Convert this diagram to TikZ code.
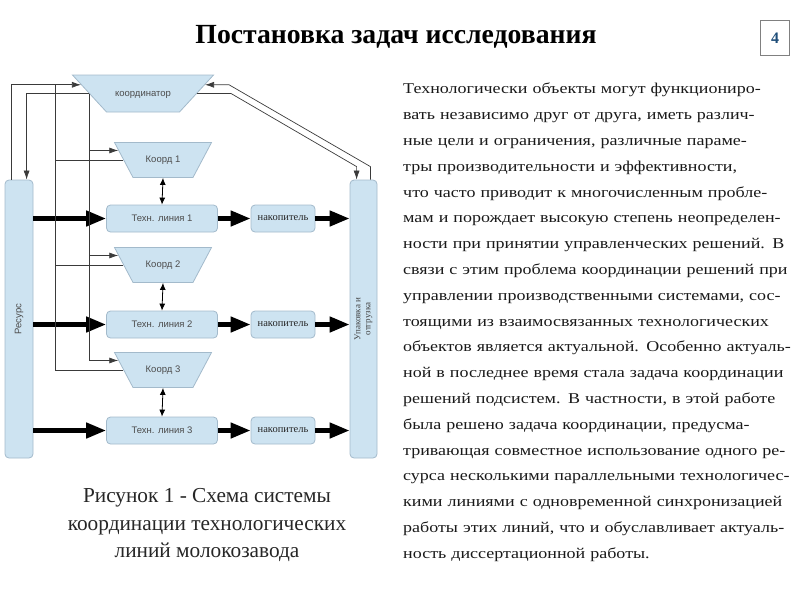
\documentclass[tikz,border=0pt]{standalone}
\usepackage{fontspec}
\setmainfont{Liberation Serif}
\setsansfont{Liberation Sans}
\newfontfamily\bodyfont[FakeStretch=1.2]{Liberation Serif}
\usepackage{tikz}
\usetikzlibrary{arrows.meta}
\usetikzlibrary{shapes.geometric,calc}
\definecolor{boxfill}{HTML}{CDE3F1}
\definecolor{boxline}{HTML}{A3BACB}
\definecolor{wiregray}{HTML}{3A3A3A}
\definecolor{pagenum}{HTML}{1F4E79}
\newcommand{\jl}[1]{\makebox[387pt][s]{#1}}

\begin{document}
\begin{tikzpicture}[x=1pt,y=-1pt,
  blk/.style={draw=boxline,fill=boxfill,rounded corners=4pt,line width=0.8pt,
    font=\sffamily\fontsize{9.5}{11}\selectfont,text=black!70},
  trap/.style={trapezium,trapezium stretches body,shape border rotate=180,draw=boxline,fill=boxfill,
    line width=0.8pt,inner xsep=0pt,text height=7pt,text depth=2pt,
    font=\sffamily\fontsize{9.5}{11}\selectfont,text=black!70},
  wire/.style={draw=wiregray,line width=0.7pt,-{Latex[length=9pt,width=6pt]}},
  dbl/.style={line width=0.8pt,{Latex[length=7pt,width=6pt]}-{Latex[length=7pt,width=6pt]}},
  flow/.style={line width=4.5pt,-{Triangle[length=20pt,width=15pt]}}]
\useasboundingbox (0,0) rectangle (800,600);

\node[font=\bfseries\fontsize{27.7}{32}\selectfont] (title) at (396,37) {Постановка задач исследования};
\node[draw=black!50,line width=0.8pt,minimum width=29pt,minimum height=35pt,
  font=\bfseries\fontsize{16}{18}\selectfont,text=pagenum] (pg) at (775,38) {4};

% blocks
\node[trap,trapezium angle=47.4,inner ysep=14pt,minimum width=141pt] (crd) at (143,93.5) {координатор};
\foreach \i/\y in {1/160,2/265,3/370}
  \node[trap,trapezium angle=62.1,inner ysep=13pt,minimum width=97pt] (k\i) at (163,\y) {Коорд \i};
\foreach \i/\y in {1/218.5,2/324.5,3/430.5}{
  \node[blk,minimum width=111pt,minimum height=27pt] (tl\i) at (162,\y) {Техн. линия \i};
  \node[blk,minimum width=64pt,minimum height=27pt,
    font=\fontsize{10.5}{12}\selectfont,text=black!85] (nk\i) at (283,\y) {накопитель};
}
\node[blk,minimum width=28pt,minimum height=278pt] (res) at (19,319) {};
\node[rotate=90,font=\sffamily\fontsize{9.5}{11}\selectfont,text=black!70] (reslbl) at (res.center) {Ресурс};
\node[blk,minimum width=27pt,minimum height=278pt] (pack) at (363.5,319) {};
\node[rotate=90,align=center,font=\fontsize{9}{10}\selectfont,text=black!75] (packlbl) at (pack.center) {Упаковка и\\отгрузка};

% flows
\foreach \i in {1,2,3}{
  \draw[flow] (res.east |- tl\i.west) -- (tl\i.west);
  \draw[flow] (tl\i.east) -- (nk\i.west);
  \draw[flow] (nk\i.east) -- (pack.west |- nk\i.east);
  \draw[dbl] (k\i.center |- k\i.270) -- (tl\i.north);
}

% control links
\coordinate (fb) at (55,85);
\draw[wire] ([xshift=7pt]res.north west) |- (crd.172);
\draw[wire] (crd.180) -| ([xshift=22pt]res.north west);
\foreach \i in {1,2,3}{
  \draw[wire] (crd.180) |- (k\i.168);
  \draw[wire,-] (k\i.180) -| (fb);
}
\draw[wire] ([xshift=-7pt]pack.north east) -- ++(0,-13) -- ($(crd.8)+(24,0)$) -- (crd.8);
\draw[wire] (crd.0) -- ++(34,0) -- ([xshift=7pt,yshift=13pt]pack.north west) -- ([xshift=7pt]pack.north west);

\node[align=center,font=\fontsize{21.3}{27.5}\selectfont,text=black!85] (cap) at (207,525)
  {Рисунок 1 - Схема системы\\координации технологических\\линий молокозавода};

\node[anchor=north west,inner sep=0pt,text width=387pt,
  font=\bodyfont\fontsize{15}{25.8}\selectfont,text=black!90] (txt) at (403,83) {%
\jl{Технологически объекты могут функциониро-}\\
\jl{вать независимо друг от друга, иметь различ-}\\
\jl{ные цели и ограничения, различные параме-}\\
\jl{тры производительности и эффективности,}\\
\jl{что часто приводит к многочисленным пробле-}\\
\jl{мам и порождает высокую степень неопределен-}\\
\jl{ности при принятии управленческих решений. В}\\
\jl{связи с этим проблема координации решений при}\\
\jl{управлении производственными системами, сос-}\\
\jl{тоящими из взаимосвязанных технологических}\\
\jl{объектов является актуальной. Особенно актуаль-}\\
\jl{ной в последнее время стала задача координации}\\
\jl{решений подсистем. В частности, в этой работе}\\
\jl{была решено задача координации, предусма-}\\
\jl{тривающая совместное использование одного ре-}\\
\jl{сурса несколькими параллельными технологичес-}\\
\jl{кими линиями с одновременной синхронизацией}\\
\jl{работы этих линий, что и обуславливает актуаль-}\\
ность диссертационной работы.};
\end{tikzpicture}
\end{document}
